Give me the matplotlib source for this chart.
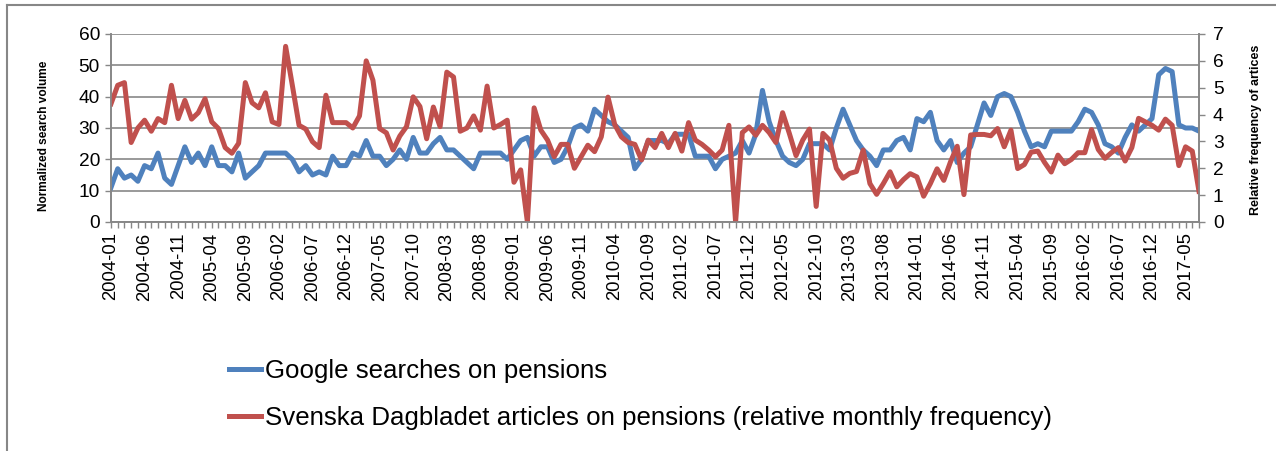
import numpy as np
import pandas as pd
import matplotlib
matplotlib.use('Agg')
import matplotlib.pyplot as plt
from matplotlib.lines import Line2D

# monthly series, 2004-01 .. 2017-07
months = pd.date_range('2004-01', periods=163, freq='MS').strftime('%Y-%m').tolist()

# Google searches on pensions (normalized search volume, left axis)
google = [11, 17, 14, 15, 13, 18, 17, 22, 14, 12,
          18, 24, 19, 22, 18, 24, 18, 18, 16, 22,
          14, 16, 18, 22, 22, 22, 22, 20, 16, 18,
          15, 16, 15, 21, 18, 18, 22, 21, 26, 21,
          21, 18, 20, 23, 20, 27, 22, 22, 25, 27,
          23, 23, 21, 19, 17, 22, 22, 22, 22, 20,
          23, 26, 27, 21, 24, 24, 19, 20, 24, 30,
          31, 29, 36, 34, 32, 31, 29, 27, 17, 20,
          26, 26, 26, 25, 28, 28, 28, 21, 21, 21,
          17, 20, 21, 22, 26, 22, 28, 42, 32, 26,
          21, 19, 18, 20, 25, 25, 25, 23, 30, 36,
          31, 26, 23, 21, 18, 23, 23, 26, 27, 23,
          33, 32, 35, 26, 23, 26, 19, 22, 24, 31,
          38, 34, 40, 41, 40, 35, 29, 24, 25, 24,
          29, 29, 29, 29, 32, 36, 35, 31, 25, 24,
          22, 27, 31, 29, 31, 33, 47, 49, 48, 31,
          30, 30, 29]

# Svenska Dagbladet articles on pensions (relative monthly frequency, right axis)
svd = [4.40, 5.09, 5.19, 2.96, 3.50, 3.79, 3.38, 3.85, 3.70, 5.09,
       3.85, 4.53, 3.83, 4.07, 4.59, 3.73, 3.48, 2.77, 2.56, 2.93,
       5.19, 4.44, 4.25, 4.81, 3.73, 3.63, 6.54, 5.09, 3.60, 3.46,
       2.99, 2.77, 4.72, 3.70, 3.70, 3.70, 3.50, 3.95, 6.00, 5.28,
       3.48, 3.32, 2.68, 3.20, 3.55, 4.66, 4.30, 3.10, 4.28, 3.55,
       5.58, 5.40, 3.38, 3.50, 3.95, 3.42, 5.06, 3.50, 3.63, 3.79,
       1.48, 1.94, 0.00, 4.25, 3.42, 3.05, 2.43, 2.89, 2.89, 2.00,
       2.43, 2.86, 2.62, 3.17, 4.65, 3.63, 3.17, 2.96, 2.89, 2.31,
       3.05, 2.77, 3.30, 2.77, 3.30, 2.64, 3.70, 3.05, 2.89, 2.68,
       2.43, 2.68, 3.60, 0.00, 3.33, 3.54, 3.23, 3.60, 3.33, 2.96,
       4.07, 3.30, 2.47, 3.05, 3.46, 0.58, 3.30, 3.05, 2.00, 1.63,
       1.81, 1.88, 2.68, 1.43, 1.03, 1.43, 1.87, 1.31, 1.58, 1.80,
       1.68, 0.96, 1.43, 1.98, 1.55, 2.24, 2.82, 1.02, 3.24, 3.26,
       3.26, 3.21, 3.48, 2.80, 3.42, 1.99, 2.14, 2.60, 2.64, 2.22,
       1.86, 2.49, 2.17, 2.33, 2.58, 2.58, 3.44, 2.70, 2.37, 2.59,
       2.77, 2.27, 2.77, 3.86, 3.73, 3.60, 3.42, 3.83, 3.60, 2.10,
       2.80, 2.64, 1.14]

blue = '#4F81BD'
red = '#C0504D'
grey = '#878787'
plt.rcParams['font.family'] = ['Liberation Sans', 'DejaVu Sans']

W, H = 1276, 451
fig = plt.figure(figsize=(W / 100, H / 100), dpi=100)
ax = fig.add_axes([111 / W, 1 - 222 / H, 1088 / W, 188 / H])

x = np.arange(len(months))
l1, = ax.plot(x, google, color=blue, lw=3.6, solid_joinstyle='round')
ax.set_xlim(0, len(months) - 1)
ax.set_ylim(0, 60)
ax.set_yticks(range(0, 61, 10))
ax.grid(axis='y', color=grey, lw=1.2)
ax.set_axisbelow(True)

ax.set_xticks(x[::5])
ax.set_xticklabels(months[::5], rotation=90, fontsize=13.3)
ax.set_xticks(x, minor=True)
ax.tick_params(axis='x', which='both', direction='out', length=4.5, width=1, color=grey, pad=3)
ax.tick_params(axis='y', direction='out', length=4, width=1, color=grey, labelsize=13.8, pad=4)

ax2 = ax.twinx()
l2, = ax2.plot(x, svd, color=red, lw=3.6, solid_joinstyle='round')
ax2.set_ylim(0, 7)
ax2.set_yticks(range(0, 8))
ax2.tick_params(axis='y', direction='out', length=4, width=1, color=grey, labelsize=13.8, pad=6)

for a in (ax, ax2):
    a.spines['top'].set_visible(False)
    for s in ('left', 'right', 'bottom'):
        a.spines[s].set_color(grey)
        a.spines[s].set_linewidth(1.2)

ax.set_ylabel('Normalized search volume', fontsize=8.6, fontweight='bold')
ax.yaxis.set_label_coords(-0.056, 0.46)
ax2.set_ylabel('Relative frequency of artices', fontsize=9, fontweight='bold', rotation=90)
ax2.yaxis.set_label_coords(1.047, 0.49)

fig.legend([l1, l2],
           ['Google searches on pensions',
            'Svenska Dagbladet articles on pensions (relative monthly frequency)'],
           loc='upper left', bbox_to_anchor=(229 / W, 1 - 359 / H),
           frameon=False, fontsize=18.6, handlelength=1.24, handletextpad=0.15,
           labelspacing=0.9, borderpad=0, borderaxespad=0)

# outer chart border (top and left edge visible)
fig.add_artist(Line2D([7 / W, 1], [1 - 5 / H, 1 - 5 / H], transform=fig.transFigure,
                      color=grey, lw=1.5))
fig.add_artist(Line2D([7 / W, 7 / W], [0, 1 - 5 / H], transform=fig.transFigure,
                      color=grey, lw=1.5))

fig.savefig('out.png', dpi=100)
